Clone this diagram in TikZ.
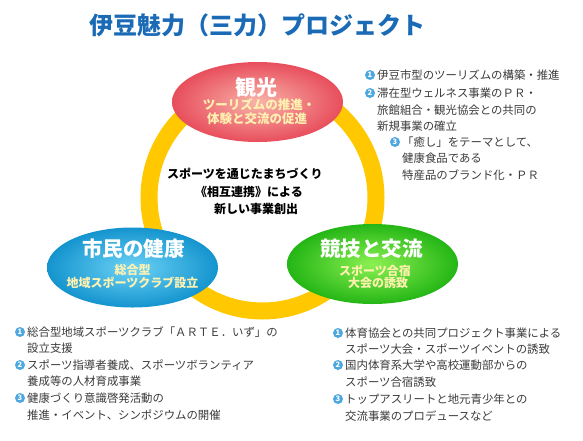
\documentclass[tikz,border=0pt]{standalone}
\usepackage{fontspec}
\newfontfamily\jp{Noto Sans CJK JP}
\usetikzlibrary{shapes.geometric}
\definecolor{ringc}{HTML}{FFC800}
\definecolor{redin}{HTML}{F8B4AA}
\definecolor{redout}{HTML}{E84E5C}
\definecolor{bluein}{HTML}{6CD2F6}
\definecolor{blueout}{HTML}{1494CE}
\definecolor{greenin}{HTML}{8CF052}
\definecolor{greenout}{HTML}{24B616}
\definecolor{subyellow}{HTML}{FFF2B0}
\definecolor{titleblue}{HTML}{1A6AB6}
\definecolor{txtgray}{HTML}{3A3A3A}
\definecolor{numblue}{HTML}{4EA8E0}
\begin{document}
\begin{tikzpicture}[x=1pt,y=-1pt,
  bubble/.style={ellipse, minimum width=171pt, minimum height=80pt, inner sep=0},
  btitle/.style={inner sep=0, text=white, font=\jp\bfseries\fontsize{20.5}{24}\selectfont},
  bsub/.style={inner sep=0, text=subyellow, font=\jp\bfseries\fontsize{12}{14}\selectfont},
  ctext/.style={anchor=west, inner sep=0, text=black, font=\jp\bfseries\fontsize{12}{14}\selectfont},
  lst/.style={anchor=west, inner sep=0, text=txtgray, font=\jp\fontsize{11.4}{14}\selectfont},
  num/.style={circle, inner sep=0, minimum size=10pt, fill=numblue, text=white, font=\jp\bfseries\fontsize{7.5}{8}\selectfont}
]
\useasboundingbox (0,0) rectangle (583,440);

% title
\node[inner sep=0, text=titleblue, font=\jp\bfseries\fontsize{24}{28}\selectfont] (title) at (257,25) {伊豆魅力（三力）プロジェクト};

% ring
\coordinate (rc) at (262.5,197.5);
\draw[ringc, line width=17pt] (rc) circle[radius=113.5pt];

% bubbles
\node[bubble, inner color=redin, outer color=redout] (kanko) at (257.5,102) {};
\node[bubble, inner color=bluein, outer color=blueout] (kenko) at (132.5,267.5) {};
\node[bubble, inner color=greenin, outer color=greenout] (kyogi) at (372.5,264) {};

\node[btitle, font=\jp\bfseries\fontsize{21}{24}\selectfont] (kantitle) at (256.5,87) {観光};
\node[bsub, font=\jp\bfseries\fontsize{12.5}{14}\selectfont] (kansub1) at (259,105) {ツーリズムの推進・};
\node[bsub, font=\jp\bfseries\fontsize{12.5}{14}\selectfont] (kansub2) at (257,119) {体験と交流の促進};

\node[btitle] (kentitle) at (133.5,248.5) {市民の健康};
\node[bsub] (kensub1) at (132.5,270) {総合型};
\node[bsub] (kensub2) at (132.5,283) {地域スポーツクラブ設立};

\node[btitle] (kyotitle) at (371.5,249) {競技と交流};
\node[bsub] (kyosub1) at (375,271) {スポーツ合宿};
\node[bsub] (kyosub2) at (378,283) {大会の誘致};

% center text
\node[ctext] (c1) at (167,174) {スポーツを通じたまちづくり};
\node[ctext] (c2) at (195,192) {《相互連携》による};
\node[ctext] (c3) at (214,208.5) {新しい事業創出};

% top right list
\node[num] (tr1n) at (370,75) {1};
\node[lst] (tr1) at (377,75) {伊豆市型のツーリズムの構築・推進};
\node[num] (tr2n) at (370,93) {2};
\node[lst] (tr2a) at (377,93) {滞在型ウェルネス事業のＰＲ・};
\node[lst] (tr2b) at (377,110) {旅館組合・観光協会との共同の};
\node[lst] (tr2c) at (377,126) {新規事業の確立};
\node[num] (tr3n) at (395,142) {3};
\node[lst] (tr3a) at (402,142) {「癒し」をテーマとして、};
\node[lst] (tr3b) at (402,158) {健康食品である};
\node[lst] (tr3c) at (402,175) {特産品のブランド化・ＰＲ};

% bottom left list
\node[num] (bl1n) at (20,332) {1};
\node[lst] (bl1a) at (27,332) {総合型地域スポーツクラブ「ＡＲＴＥ．いず」の};
\node[lst] (bl1b) at (27,348) {設立支援};
\node[num] (bl2n) at (20,365) {2};
\node[lst] (bl2a) at (27,365) {スポーツ指導者養成、スポーツボランティア};
\node[lst] (bl2b) at (27,381) {養成等の人材育成事業};
\node[num] (bl3n) at (20,398) {3};
\node[lst] (bl3a) at (27,398) {健康づくり意識啓発活動の};
\node[lst] (bl3b) at (27,415) {推進・イベント、シンポジウムの開催};

% bottom right list
\node[num] (br1n) at (338,333) {1};
\node[lst] (br1a) at (345,333) {体育協会との共同プロジェクト事業による};
\node[lst] (br1b) at (345,349) {スポーツ大会・スポーツイベントの誘致};
\node[num] (br2n) at (338,365) {2};
\node[lst] (br2a) at (345,365) {国内体育系大学や高校運動部からの};
\node[lst] (br2b) at (345,382) {スポーツ合宿誘致};
\node[num] (br3n) at (338,399) {3};
\node[lst] (br3a) at (345,399) {トップアスリートと地元青少年との};
\node[lst] (br3b) at (345,416) {交流事業のプロデュースなど};
\end{tikzpicture}
\end{document}
